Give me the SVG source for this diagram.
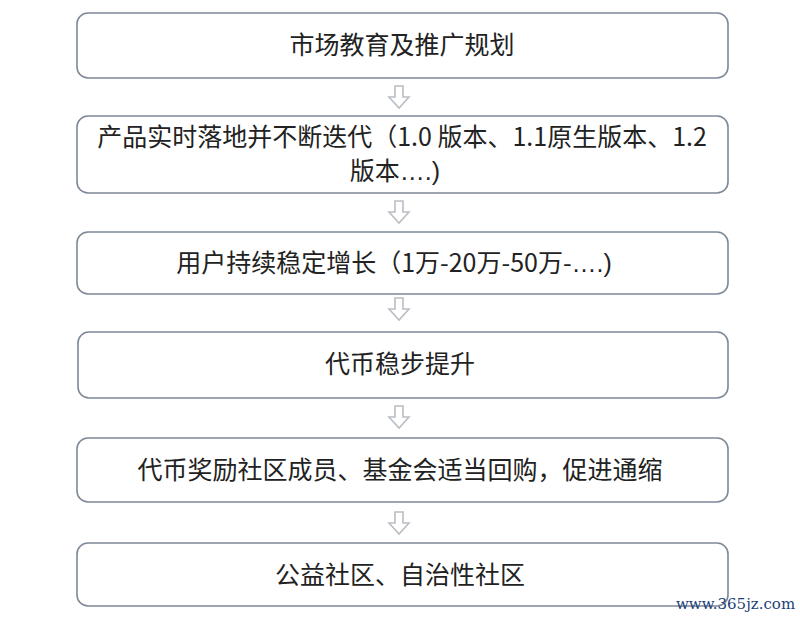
<svg xmlns="http://www.w3.org/2000/svg" width="800" height="619" viewBox="0 0 800 619">
<style>
.box{fill:#fff;stroke:#7d8996;stroke-width:1.6}
.t{font-family:"Noto Sans CJK SC","Noto Sans",sans-serif;font-size:25px;fill:#222;text-anchor:middle}
.arr{fill:#fff;stroke:#b9bec4;stroke-width:1.6;stroke-linejoin:miter}
.wm{font-family:"DejaVu Serif","Liberation Serif",serif;font-size:15px;fill:#1d3f78}
</style>
<defs>
<path id="a" d="M-4,0 H4 V11 H10 L0,22 L-10,11 H-4 Z"/>
</defs>
<rect width="800" height="619" fill="#fff"/>
<g id="connectors">
<use href="#a" class="arr" x="399" y="86"/>
<use href="#a" class="arr" x="399" y="201"/>
<use href="#a" class="arr" x="399" y="298"/>
<use href="#a" class="arr" x="399" y="406"/>
<use href="#a" class="arr" x="399" y="512"/>
</g>
<g id="n1"><rect class="box" x="77" y="13" width="651" height="65" rx="11"/><text class="t" x="402" y="54">市场教育及推广规划</text></g>
<g id="n2"><rect class="box" x="77" y="116" width="651" height="77" rx="11"/><text class="t" x="402" y="146">产品实时落地并不断迭代（1.0 版本、1.1原生版本、1.2</text><text class="t" x="395" y="180">版本<tspan font-family="Liberation Sans, sans-serif">….)</tspan></text></g>
<g id="n3"><rect class="box" x="77" y="232" width="651" height="62" rx="11"/><text class="t" x="394" y="272">用户持续稳定增长（1万-20万-50万-<tspan font-family="Liberation Sans, sans-serif">….)</tspan></text></g>
<g id="n4"><rect class="box" x="78" y="332" width="650" height="66" rx="11"/><text class="t" x="400" y="373">代币稳步提升</text></g>
<g id="n5"><rect class="box" x="77" y="438" width="651" height="64" rx="11"/><text class="t" x="400" y="479">代币奖励社区成员、基金会适当回购，促进通缩</text></g>
<g id="n6"><rect class="box" x="77" y="543" width="651" height="63" rx="11"/><text class="t" x="400" y="584">公益社区、自治性社区</text></g>
<text class="wm" x="676" y="609">www.365jz.com</text>
</svg>
